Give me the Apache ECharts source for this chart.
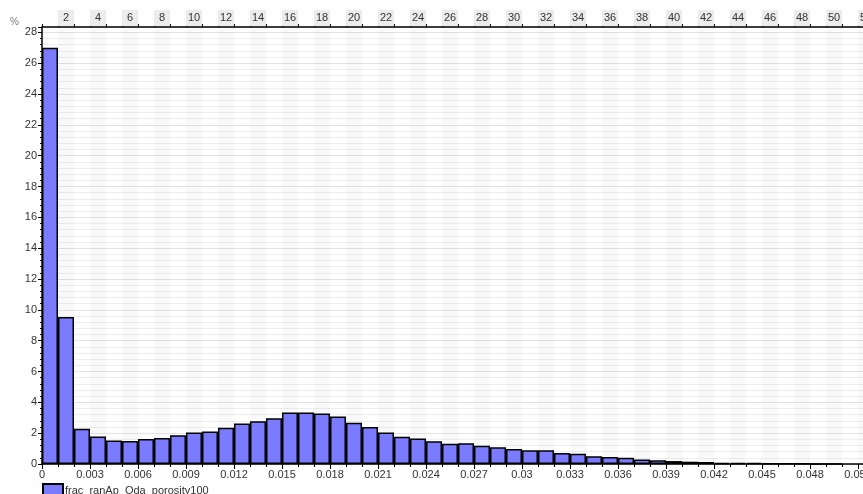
<!DOCTYPE html>
<html>
<head>
<meta charset="utf-8">
<script src="https://cdn.jsdelivr.net/npm/echarts@6/dist/echarts.min.js"></script>
<style>html,body{margin:0;padding:0;background:#fff}#c{width:863px;height:494px}</style>
</head>
<body>
<div id="c"></div>
<script>
// Bin numbers shown on the top axis (bins of width 0.001)
const binLabels = [];
for (let i = 1; i <= 54; i++) binLabels.push(String(i));
// Percentage in each bin (bins 1..50)
const binValues = [
  27.0, 9.53, 2.29, 1.79, 1.53, 1.49, 1.62, 1.68, 1.87, 2.04,
  2.11, 2.35, 2.63, 2.78, 2.97, 3.34, 3.34, 3.27, 3.08, 2.68,
  2.40, 2.04, 1.76, 1.65, 1.48, 1.31, 1.35, 1.19, 1.08, 0.98,
  0.89, 0.89, 0.71, 0.67, 0.50, 0.45, 0.41, 0.30, 0.24, 0.19,
  0.15, 0.13, 0.08, 0.08, 0.07, 0.03, 0.02, 0.02, 0.01, 0.01
];
const seriesName = 'frac_ranAp_Oda_porosity100';

const chart = echarts.init(document.getElementById('c'), null, {renderer: 'canvas'});
const font = 'Liberation Sans, Arial, sans-serif';
chart.setOption({
  animation: false,
  backgroundColor: '#fff',
  grid: {left: 42, top: 27, width: 864, height: 437, containLabel: false, outerBoundsMode: 'none'},
  legend: {
    left: 42, top: 483, padding: 0, itemWidth: 20, itemHeight: 13, itemGap: 4, icon: 'rect',
    textStyle: {fontFamily: font, fontSize: 11, color: '#333', padding: [0, 0, 0, -3]},
    data: [seriesName]
  },
  xAxis: [
    {
      type: 'value', position: 'bottom', min: 0, max: 0.054, interval: 0.003,
      axisLine: {show: true, lineStyle: {color: '#000', width: 1.5}},
      axisTick: {show: true, length: 5, lineStyle: {color: '#000'}},
      minorTick: {show: true, splitNumber: 3, length: 3, lineStyle: {color: '#000'}},
      splitLine: {show: false},
      axisLabel: {
        fontFamily: font, fontSize: 11, color: '#333', margin: 5,
        formatter: v => String(parseFloat(v.toFixed(3)))
      }
    },
    {
      type: 'category', position: 'top', data: binLabels, boundaryGap: true,
      axisLine: {show: true, lineStyle: {color: '#000', width: 1.5}},
      axisTick: {show: true, interval: 0, length: 3, lineStyle: {color: '#000'}},
      splitLine: {show: false},
      splitArea: {show: true, interval: 0, areaStyle: {color: ['rgba(0,0,0,0)', 'rgba(0,0,0,0.022)']}},
      axisLabel: {
        interval: (i) => i % 2 === 1,
        fontFamily: font, fontSize: 11, color: '#333', margin: 1,
        backgroundColor: '#ececec', width: 16, height: 16, lineHeight: 16, align: 'center'
      }
    }
  ],
  yAxis: {
    type: 'value', min: 0, max: 28.35, interval: 2,
    name: '%', nameLocation: 'end', nameGap: -1,
    nameTextStyle: {fontFamily: font, fontSize: 10, color: '#777', align: 'right', padding: [0, 23, 0, 0]},
    axisLine: {show: true, lineStyle: {color: '#000', width: 1.5}},
    axisTick: {show: true, length: 4, lineStyle: {color: '#000'}},
    minorTick: {show: true, splitNumber: 5, length: 2, lineStyle: {color: '#000'}},
    splitLine: {show: true, lineStyle: {color: '#e4e4e4', width: 1}},
    minorSplitLine: {show: true, lineStyle: {color: '#eeeeee', width: 1}},
    axisLabel: {fontFamily: font, fontSize: 11, color: '#333', margin: 5, showMaxLabel: false}
  },
  series: [{
    name: seriesName, type: 'bar', xAxisIndex: 1, data: binValues,
    barCategoryGap: '0%', barGap: '0%',
    itemStyle: {color: '#7b7bff', borderColor: '#000', borderWidth: 1.5}
  }]
});
</script>
</body>
</html>
